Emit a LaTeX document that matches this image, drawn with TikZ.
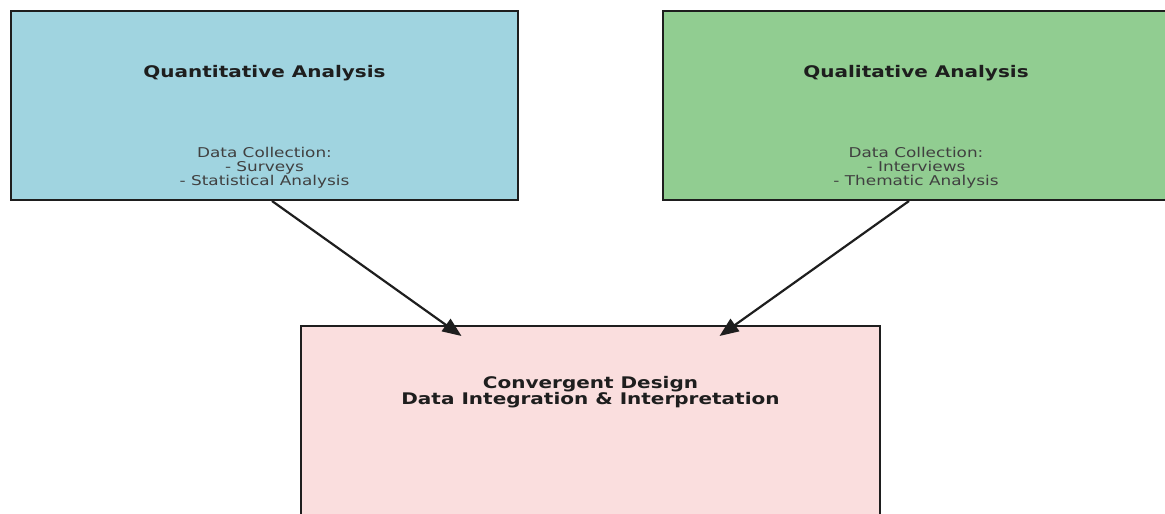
\documentclass[tikz,border=0pt]{standalone}
\usepackage{fontspec}
\setmainfont{DejaVu Sans}[FakeStretch=1.25]
\usepackage{tikz}
\usetikzlibrary{arrows.meta}
\definecolor{quantblue}{RGB}{160,212,224}
\definecolor{qualgreen}{RGB}{145,205,145}
\definecolor{convpink}{RGB}{250,222,222}
\definecolor{inkgray}{RGB}{30,30,30}
\tikzstyle{mybox} = [draw=inkgray, line width=2pt, rectangle, inner sep=0pt,
    minimum width=507pt, minimum height=189pt]
\tikzstyle{boxtitle} = [text=inkgray, font=\fontsize{16}{16}\selectfont\bfseries, align=center, inner sep=0pt]
\tikzstyle{boxbody} = [text=inkgray!85, font=\fontsize{13.5}{14}\selectfont, align=center, inner sep=0pt]
\tikzstyle{flow} = [line width=2.2pt, inkgray, -{Triangle[length=19pt,width=15pt]}]

\begin{document}
\begin{tikzpicture}[x=1pt, y=-1pt]
                \useasboundingbox (0,0) rectangle (1165,514);
                \clip (0,0) rectangle (1165,514);
                % the three boxes
                \node [mybox, fill=quantblue] (quant) at (264.5,105.5) {};
                \node [mybox, fill=qualgreen] (qual) at (916,105.5) {};
                \node [mybox, fill=convpink, minimum width=579pt, minimum height=210pt] (conv) at (590.5,431) {};
                % texts
                \node [boxtitle] (quanttitle) at ([yshift=32pt]quant.center) {Quantitative Analysis};
                \node [boxbody] (quantbody) at ([yshift=-62.5pt]quant.center) {Data Collection:\\- Surveys\\- Statistical Analysis};
                \node [boxtitle] (qualtitle) at ([yshift=32pt]qual.center) {Qualitative Analysis};
                \node [boxbody] (qualbody) at ([yshift=-62.5pt]qual.center) {Data Collection:\\- Interviews\\- Thematic Analysis};
                \node [boxtitle] (convtitle) at ([yshift=39pt]conv.center) {Convergent Design\\Data Integration \& Interpretation};
                % arrows
                \draw [flow] ([xshift=7.5pt]quant.south) -- ([xshift=-129pt,yshift=-11pt]conv.north);
                \draw [flow] ([xshift=-7pt]qual.south) -- ([xshift=129pt,yshift=-11pt]conv.north);
\end{tikzpicture}
\end{document}
